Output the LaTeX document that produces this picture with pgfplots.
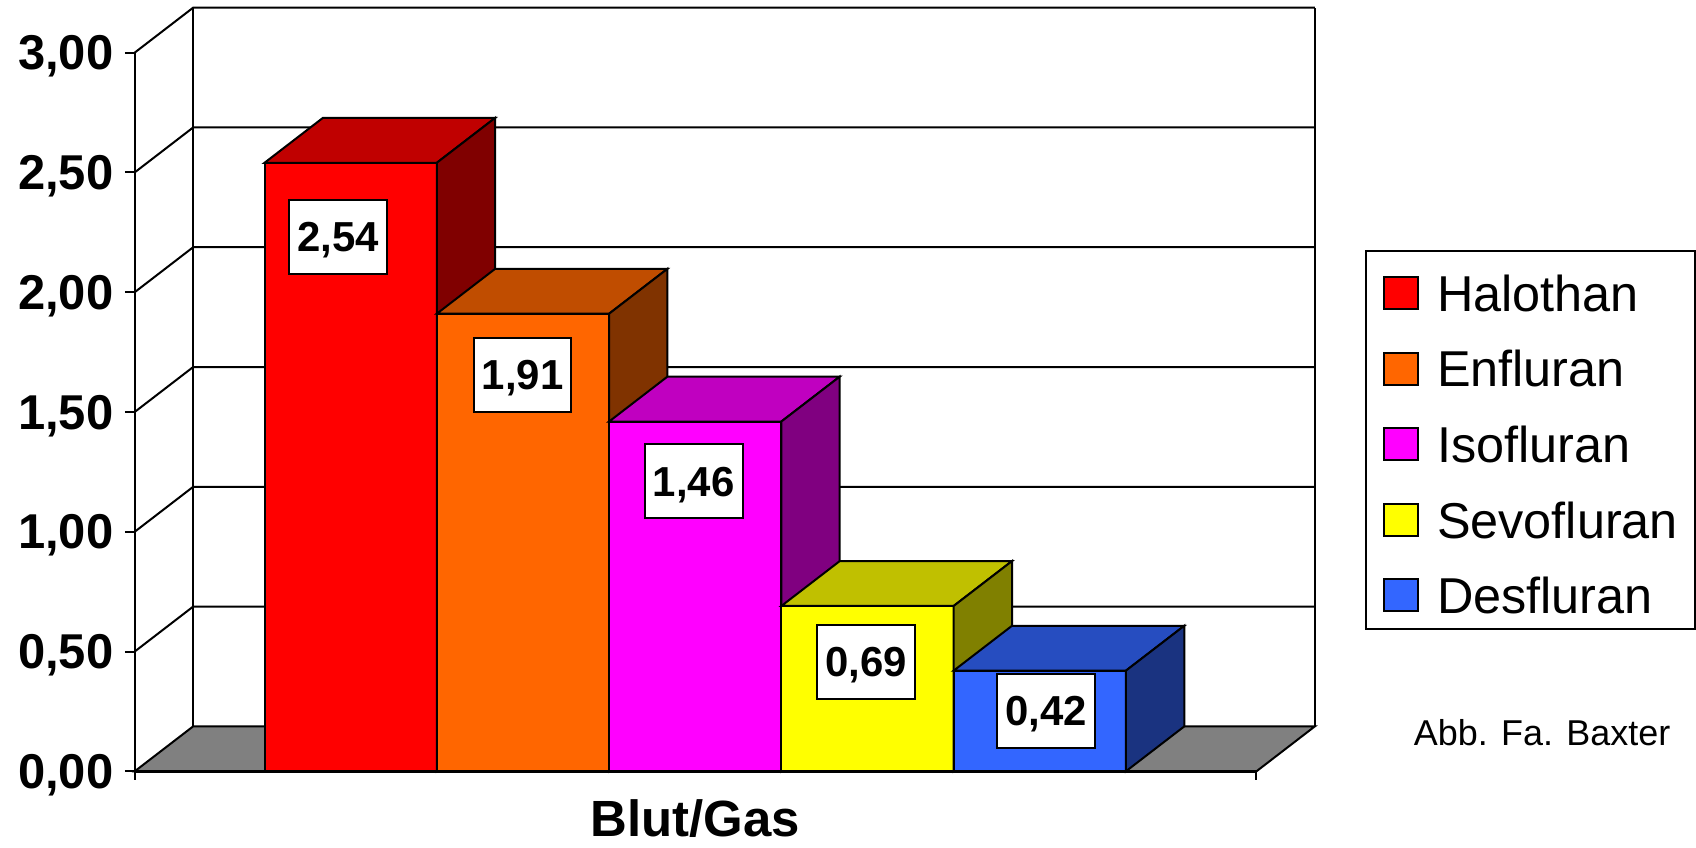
\documentclass[border=0pt]{standalone}
\usepackage{pgfplots}
\pgfplotsset{compat=1.18}
\usepackage{pgfplotstable}
\usepackage{fontspec}
\setmainfont{Liberation Sans}

% front / top / side shades of each bar
\definecolor{halF}{RGB}{255,0,0}
\definecolor{halT}{RGB}{192,0,0}
\definecolor{halS}{RGB}{128,0,0}
\definecolor{enfF}{RGB}{255,102,0}
\definecolor{enfT}{RGB}{192,77,0}
\definecolor{enfS}{RGB}{128,51,0}
\definecolor{isoF}{RGB}{255,0,255}
\definecolor{isoT}{RGB}{192,0,192}
\definecolor{isoS}{RGB}{128,0,128}
\definecolor{sevF}{RGB}{255,255,0}
\definecolor{sevT}{RGB}{192,192,0}
\definecolor{sevS}{RGB}{128,128,0}
\definecolor{desF}{RGB}{51,102,255}
\definecolor{desT}{RGB}{38,77,192}
\definecolor{desS}{RGB}{26,51,128}
\definecolor{floorgray}{RGB}{128,128,128}

% blood/gas partition coefficients; x0/x1 = bar front edges, labx/laby = label box centre
\pgfplotstableread{
key label      x0     x1     v     labx   laby
hal Halothan   130.0  302.6  2.54  204.0  2.232
enf Enfluran   302.6  475.2  1.91  388.5  1.656
iso Isofluran  475.2  647.8  1.46  560.0  1.210
sev Sevofluran 647.8  820.4  0.69  732.5  0.458
des Desfluran  820.4  993.0  0.42  912.8  0.251
}\agents

% depth of the 3-D box (x in axis units, y in value units)
\def\dx{58.5}
\def\dy{0.1875}
\def\floorend{1123.8}
\def\wallend{1182.3}

\tikzset{vallabel/.style={draw=black, fill=white, line width=1bp, inner sep=0pt,
  minimum width=49bp, minimum height=37bp, text depth=0pt, anchor=center,
  font=\bfseries\fontsize{21bp}{25bp}\selectfont}}

\begin{document}
\begin{tikzpicture}
\begin{axis}[
  x=0.5bp, y=120bp,
  xmin=0, xmax=1182.3, ymin=0, ymax=3.1875,
  enlargelimits=false,
  clip=false,
  axis x line=none,
  axis y line*=left,
  y axis line style={draw=none},
  ytick={0,0.5,1,1.5,2,2.5,3},
  tick align=outside,
  major tick length=5bp,
  ytick style={black, line width=1bp},
  yticklabel style={font=\bfseries\fontsize{24.5bp}{29bp}\selectfont,
    text depth=0pt, inner ysep=0pt, inner xsep=5.5bp,
    /pgf/number format/.cd, fixed, fixed zerofill, precision=2, use comma, assume math mode=true},
  legend style={at={(axis description cs:1.0429,0.6833)}, anchor=north west,
    draw=black, line width=1bp, fill=white,
    inner xsep=8.5bp, inner ysep=7.75bp, row sep=15.1bp, column sep=8.85bp,
    font=\fontsize{25.25bp}{30bp}\selectfont,
    nodes={inner sep=0pt, text height=22.75bp, text depth=0pt}},
  legend cell align=left,
  legend image code/.code={\draw[#1, draw=black, line width=1bp] (0bp,-10.2bp) rectangle (17bp,5.8bp);},
]

% back wall grid lines, continued across the left wall
\pgfplotsforeachungrouped \g in {0.5,1,1.5,2,2.5,3}{%
  \pgfmathsetmacro\gb{\g+\dy}%
  \edef\cmd{\noexpand\addplot[black, line width=1bp, forget plot]
    coordinates {(0,\g) (\dx,\gb) (\wallend,\gb)};}\cmd
}
% wall edges and front value axis
\edef\cmd{%
  \noexpand\addplot[black, line width=1bp, forget plot] coordinates {(\dx,\dy) (\dx,3.1875)};
  \noexpand\addplot[black, line width=1bp, forget plot] coordinates {(\wallend,\dy) (\wallend,3.1875)};
  \noexpand\addplot[black, line width=1bp, forget plot] coordinates {(0,0) (0,3)};
  % floor
  \noexpand\addplot[fill=floorgray, draw=black, line width=1bp, forget plot]
    coordinates {(0,0) (\floorend,0) (\wallend,\dy) (\dx,\dy)} --cycle;
  \noexpand\addplot[black, line width=1.5bp, forget plot] coordinates {(0,0) (\floorend,0)};
  \noexpand\addplot[black, line width=1bp, forget plot] coordinates {(0,0) (0,-0.0375)};
  \noexpand\addplot[black, line width=1bp, forget plot] coordinates {(\floorend,0) (\floorend,-0.0375)};
}\cmd

% bars: front face (with legend entry), top and side faces
\pgfplotsforeachungrouped \r in {0,1,2,3,4}{%
  \pgfplotstablegetelem{\r}{key}\of\agents \let\nm\pgfplotsretval
  \pgfplotstablegetelem{\r}{label}\of\agents \let\lab\pgfplotsretval
  \pgfplotstablegetelem{\r}{x0}\of\agents \let\xa\pgfplotsretval
  \pgfplotstablegetelem{\r}{x1}\of\agents \let\xb\pgfplotsretval
  \pgfplotstablegetelem{\r}{v}\of\agents \let\vv\pgfplotsretval
  \pgfmathsetmacro\xc{\xa+\dx}%
  \pgfmathsetmacro\xd{\xb+\dx}%
  \pgfmathsetmacro\vt{\vv+\dy}%
  \edef\cmd{%
    \noexpand\addplot[fill=\nm F, draw=black, line width=1bp]
      coordinates {(\xa,0) (\xb,0) (\xb,\vv) (\xa,\vv)} --cycle;
    \noexpand\addlegendentry{\lab}
    \noexpand\addplot[fill=\nm T, draw=black, line width=1bp, forget plot]
      coordinates {(\xa,\vv) (\xb,\vv) (\xd,\vt) (\xc,\vt)} --cycle;
    \noexpand\addplot[fill=\nm S, draw=black, line width=1bp, forget plot]
      coordinates {(\xb,0) (\xd,\dy) (\xd,\vt) (\xb,\vv)} --cycle;
  }\cmd
}

% value labels
\pgfplotsforeachungrouped \r in {0,1,2,3,4}{%
  \pgfplotstablegetelem{\r}{v}\of\agents \let\vv\pgfplotsretval
  \pgfplotstablegetelem{\r}{labx}\of\agents \let\lx\pgfplotsretval
  \pgfplotstablegetelem{\r}{laby}\of\agents \let\ly\pgfplotsretval
  \edef\cmd{\noexpand\node[vallabel] at (axis cs:\lx,\ly)
    {\noexpand\pgfmathprintnumber[assume math mode=true, fixed, fixed zerofill, precision=2, use comma]{\vv}};}\cmd
}

\node[font=\bfseries\fontsize{25.5bp}{30bp}\selectfont, anchor=center, text depth=0pt, inner sep=0pt]
  at (axis cs:561.5,-0.195) {Blut/Gas};
\node[font=\fontsize{18bp}{22bp}\selectfont, anchor=base, inner sep=0pt]
  at (axis cs:1410,0.106) {Abb. Fa. Baxter};

% page extent
\path (axis cs:-135,-0.3179) rectangle (axis cs:1561,3.2196);
\end{axis}
\end{tikzpicture}
\end{document}
